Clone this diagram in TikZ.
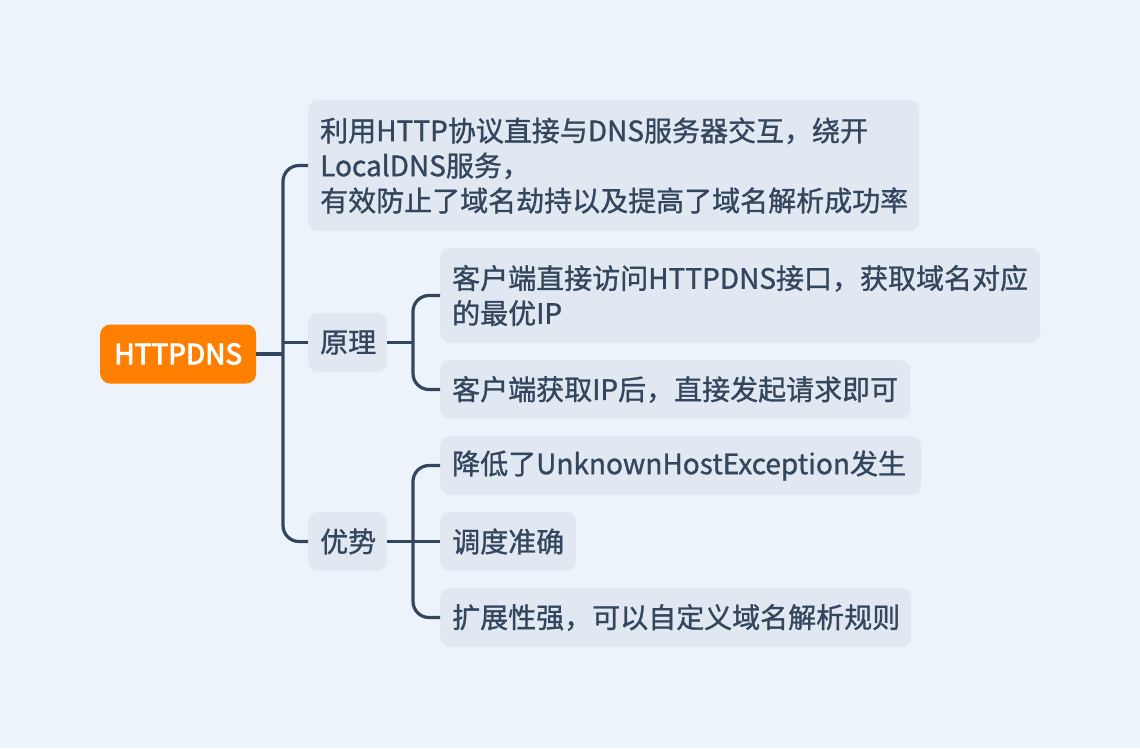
\documentclass[tikz,border=0pt]{standalone}
\usepackage{fontspec}
\setmainfont{Noto Sans CJK SC}[FakeBold=1.1]
\newfontfamily\rootfont{Noto Sans CJK SC}[FakeBold=3.2]
\usepackage{tikz}
\usetikzlibrary{positioning,calc}
\definecolor{bgblue}{RGB}{237,243,250}
\definecolor{boxgray}{RGB}{225,232,241}
\definecolor{inkblue}{RGB}{52,70,94}
\definecolor{rootorange}{RGB}{255,128,0}

\tikzset{
    topic/.style={fill=boxgray, text=inkblue, rounded corners=10pt, anchor=west,
        inner xsep=12pt, inner ysep=0pt, align=left,
        font=\fontsize{28}{35}\selectfont},
    link/.style={draw=inkblue, line width=3.2pt, rounded corners=16pt}
}

\begin{document}
\begin{tikzpicture}[x=1pt, y=-1pt]
    % background
    \fill[bgblue] (0,0) rectangle (1140,748);
    \useasboundingbox (0,0) rectangle (1140,748);

    % root
    \node (root) [anchor=west, fill=rootorange, text=white, rounded corners=10pt,
        minimum width=156pt, minimum height=59pt, inner sep=0pt,
        font=\rootfont\fontsize{28}{32}\selectfont] at (100,354) {HTTPDNS};

    % first level
    \node (note) [topic, text width=587pt, minimum height=131pt] at (308,165.5)
        {利用HTTP协议直接与DNS服务器交互，绕开\\LocalDNS服务，\\有效防止了域名劫持以及提高了域名解析成功率};
    \node (yuanli) [topic, text width=55pt, minimum height=59pt] at (308,342.5) {原理};
    \node (youshi) [topic, text width=55pt, minimum height=59pt] at (308,541.5) {优势};

    % second level
    \node (ylA) [topic, text width=576pt, minimum height=95pt] at (440,295.5)
        {客户端直接访问HTTPDNS接口，获取域名对应\\的最优IP};
    \node (ylB) [topic, text width=446pt, minimum height=59pt] at (440,389.5)
        {客户端获取IP后，直接发起请求即可};
    \node (ysA) [topic, text width=457pt, minimum height=59pt] at (440,465.5)
        {降低了UnknownHostException发生};
    \node (ysB) [topic, text width=112pt, minimum height=59pt] at (440,541.5) {调度准确};
    \node (ysC) [topic, text width=447pt, minimum height=59pt] at (440,617.5)
        {扩展性强，可以自定义域名解析规则};

    % trunks
    \coordinate (trunk1) at (283,0);
    \coordinate (trunk2) at (413,0);

    \draw[link] (note.west) -| (trunk1 |- yuanli.west) |- (youshi.west);
    \draw[link] (root.east) -- (root.east -| trunk1);
    \draw[link] (trunk1 |- yuanli.west) -- (yuanli.west);

    \draw[link] (ylA.west) -| (trunk2 |- yuanli.east) |- (ylB.west);
    \draw[link] (yuanli.east) -- (trunk2 |- yuanli.east);

    \draw[link] (ysA.west) -| (trunk2 |- youshi.east) |- (ysC.west);
    \draw[link] (youshi.east) -- (ysB.west);
\end{tikzpicture}
\end{document}
